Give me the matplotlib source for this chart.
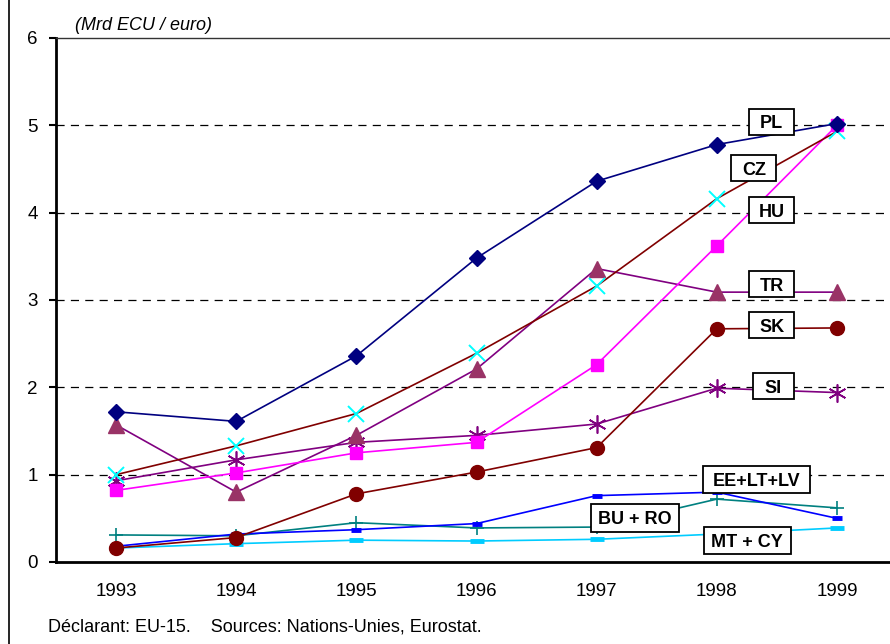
import matplotlib
matplotlib.use('Agg')
import matplotlib.pyplot as plt
from matplotlib.patches import Rectangle
from matplotlib.lines import Line2D

plt.rcParams['font.family'] = ['Liberation Sans', 'DejaVu Sans']

# Années et valeurs (Mrd ECU / euro)
annees = [1993, 1994, 1995, 1996, 1997, 1998, 1999]

pl = [1.72, 1.61, 2.36, 3.48, 4.36, 4.78, 5.02]
cz = [1.00, 1.33, 1.70, 2.39, 3.16, 4.16, 4.93]
hu = [0.82, 1.02, 1.25, 1.37, 2.26, 3.62, 5.00]
tr = [1.57, 0.80, 1.45, 2.21, 3.36, 3.09, 3.09]
sk = [0.16, 0.28, 0.78, 1.03, 1.31, 2.67, 2.68]
si = [0.93, 1.17, 1.37, 1.45, 1.58, 1.99, 1.94]
baltes = [0.18, 0.32, 0.37, 0.44, 0.76, 0.80, 0.50]
bu_ro = [0.31, 0.30, 0.45, 0.39, 0.40, 0.72, 0.62]
mt_cy = [0.16, 0.21, 0.25, 0.24, 0.26, 0.32, 0.39]

W, H = 890, 644
fig = plt.figure(figsize=(W / 100, H / 100), dpi=100, facecolor='white')
# la zone de tracé déborde à droite, comme dans l'original
ax = fig.add_axes([56 / W, 1 - 562 / H, (897 - 56) / W, (562 - 38) / H])

lw = 1.2
ax.plot(annees, mt_cy, color='#00CCFF', lw=lw, marker='_', ms=10, mew=3.5, zorder=3)
ax.plot(annees, bu_ro, color='#008080', lw=lw, marker='+', ms=10, mew=1.2, zorder=3)
ax.plot(annees, baltes, color='#0000FF', lw=lw, marker='_', ms=7, mew=3.5, zorder=3)
ax.plot(annees, si, color='#800080', lw=lw, marker=(6, 2, 0), ms=13, mew=1.2,
        mec='#800080', zorder=4)
ax.plot(annees, sk, color='#800000', lw=lw, marker='o', ms=10, mfc='#800000',
        mec='#800000', zorder=4)
ax.plot(annees, tr, color='#800080', lw=lw, marker='^', ms=12, mfc='#993366',
        mec='#993366', zorder=4)
ax.plot(annees, hu, color='#FF00FF', lw=lw, marker='s', ms=9, mfc='#FF00FF',
        mec='#FF00FF', zorder=4)
ax.plot(annees, cz, color='#800000', lw=lw, marker='x', ms=11, mew=1.4,
        mec='#00FFFF', zorder=5)
ax.plot(annees, pl, color='#000080', lw=lw, marker='D', ms=8, mfc='#000080',
        mec='#000080', zorder=5)

ax.set_xlim(1992.5, 1999.5)
ax.set_ylim(0, 6)
ax.set_xticks(annees)
ax.set_xticklabels([str(a) for a in annees])
ax.set_yticks(range(7))

ax.tick_params(axis='x', length=0, pad=15, labelsize=13.5)
ax.tick_params(axis='y', length=5, width=1.5, pad=8, labelsize=13.5, direction='out')

for y in range(1, 6):
    ax.axhline(y, color='black', lw=0.9, linestyle=(0, (6.5, 5)), zorder=1)

ax.spines['left'].set_linewidth(2)
ax.spines['bottom'].set_linewidth(2)
ax.spines['top'].set_linewidth(1)
ax.spines['top'].set_color('#333333')
ax.spines['right'].set_visible(False)

# étiquettes encadrées : texte, centre x, centre y, largeur en px, hauteur en px
etiquettes = [
    ('PL', 1998.458, 5.04, 45, 26),
    ('CZ', 1998.308, 4.506, 45, 26),
    ('HU', 1998.458, 4.03, 45, 26),
    ('TR', 1998.458, 3.18, 45, 26),
    ('SK', 1998.458, 2.71, 45, 26),
    ('SI', 1998.47, 2.015, 41, 26),
    ('EE+LT+LV', 1998.329, 0.945, 107, 27),
    ('BU + RO', 1997.317, 0.504, 88, 28),
    ('MT + CY', 1998.254, 0.246, 87, 27),
]
px_x = 1 / 120
px_y = 6 / (562 - 38)
for texte, cx, cy, wpx, hpx in etiquettes:
    w = wpx * px_x
    h = hpx * px_y
    ax.add_patch(Rectangle((cx - w / 2, cy - h / 2), w, h, facecolor='white',
                           edgecolor='black', lw=1.3, zorder=10))
    ax.text(cx, cy, texte, ha='center', va='center_baseline', fontsize=13,
            fontweight='bold', zorder=11)

fig.text(75 / W, 1 - 30 / H, '(Mrd ECU / euro)', fontsize=13, style='italic',
         ha='left', va='baseline')
fig.text(48 / W, 1 - 631 / H,
         'Déclarant: EU-15.    Sources: Nations-Unies, Eurostat.',
         fontsize=13, ha='left', va='baseline')

# cadre gauche de la figure
fig.add_artist(Line2D([8.5 / W, 8.5 / W], [0, 1], color='black', lw=1.2,
                      transform=fig.transFigure))

fig.savefig('out.png', dpi=100)
